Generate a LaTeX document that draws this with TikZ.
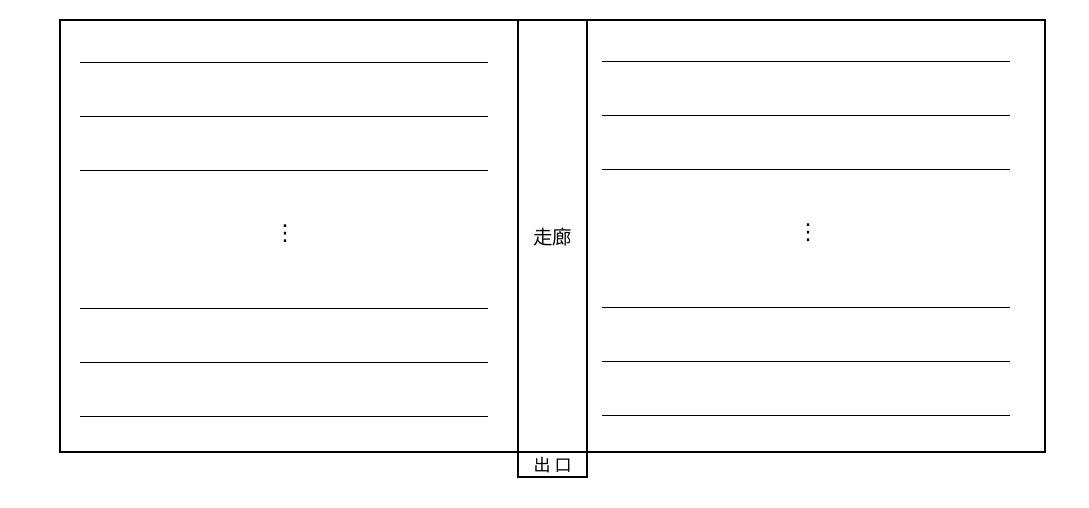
\documentclass[tikz,border=0pt]{standalone}
\usepackage{fontspec}
\newfontfamily\cjk{Noto Sans CJK SC}
\newfontfamily\dejavu{DejaVu Sans}
\begin{document}
\begin{tikzpicture}[x=1pt,y=-1pt,
  wall/.style={draw=black,line width=2pt},
  shelf/.style={draw=black,line width=0.9pt},
  lbl/.style={font=\cjk\fontsize{19.5}{22}\selectfont,inner sep=0pt},
  dots/.style={font=\dejavu\fontsize{22}{24}\selectfont,inner sep=0pt}]
\useasboundingbox (0,0) rectangle (1089,507);
\draw[wall] (60,20) rectangle (1045,452);
\draw[wall] (518,20) rectangle (587,452);
\draw[wall] (518,452) rectangle (587,477);
\foreach \y in {62,116,170,308,362,416} \draw[shelf] (80,\y) -- (488,\y);
\foreach \y in {61,115,169,307,361,415} \draw[shelf] (602,\y) -- (1010,\y);
\node[lbl] (corr) at (552.5,237) {走廊};
\node[lbl,font=\cjk\fontsize{17}{19}\selectfont] (exit) at (552.5,465) {出\hspace{4pt}口};
\node[dots] (dl) at (285,234) {⋮};
\node[dots] (dr) at (808,233) {⋮};
\end{tikzpicture}
\end{document}
